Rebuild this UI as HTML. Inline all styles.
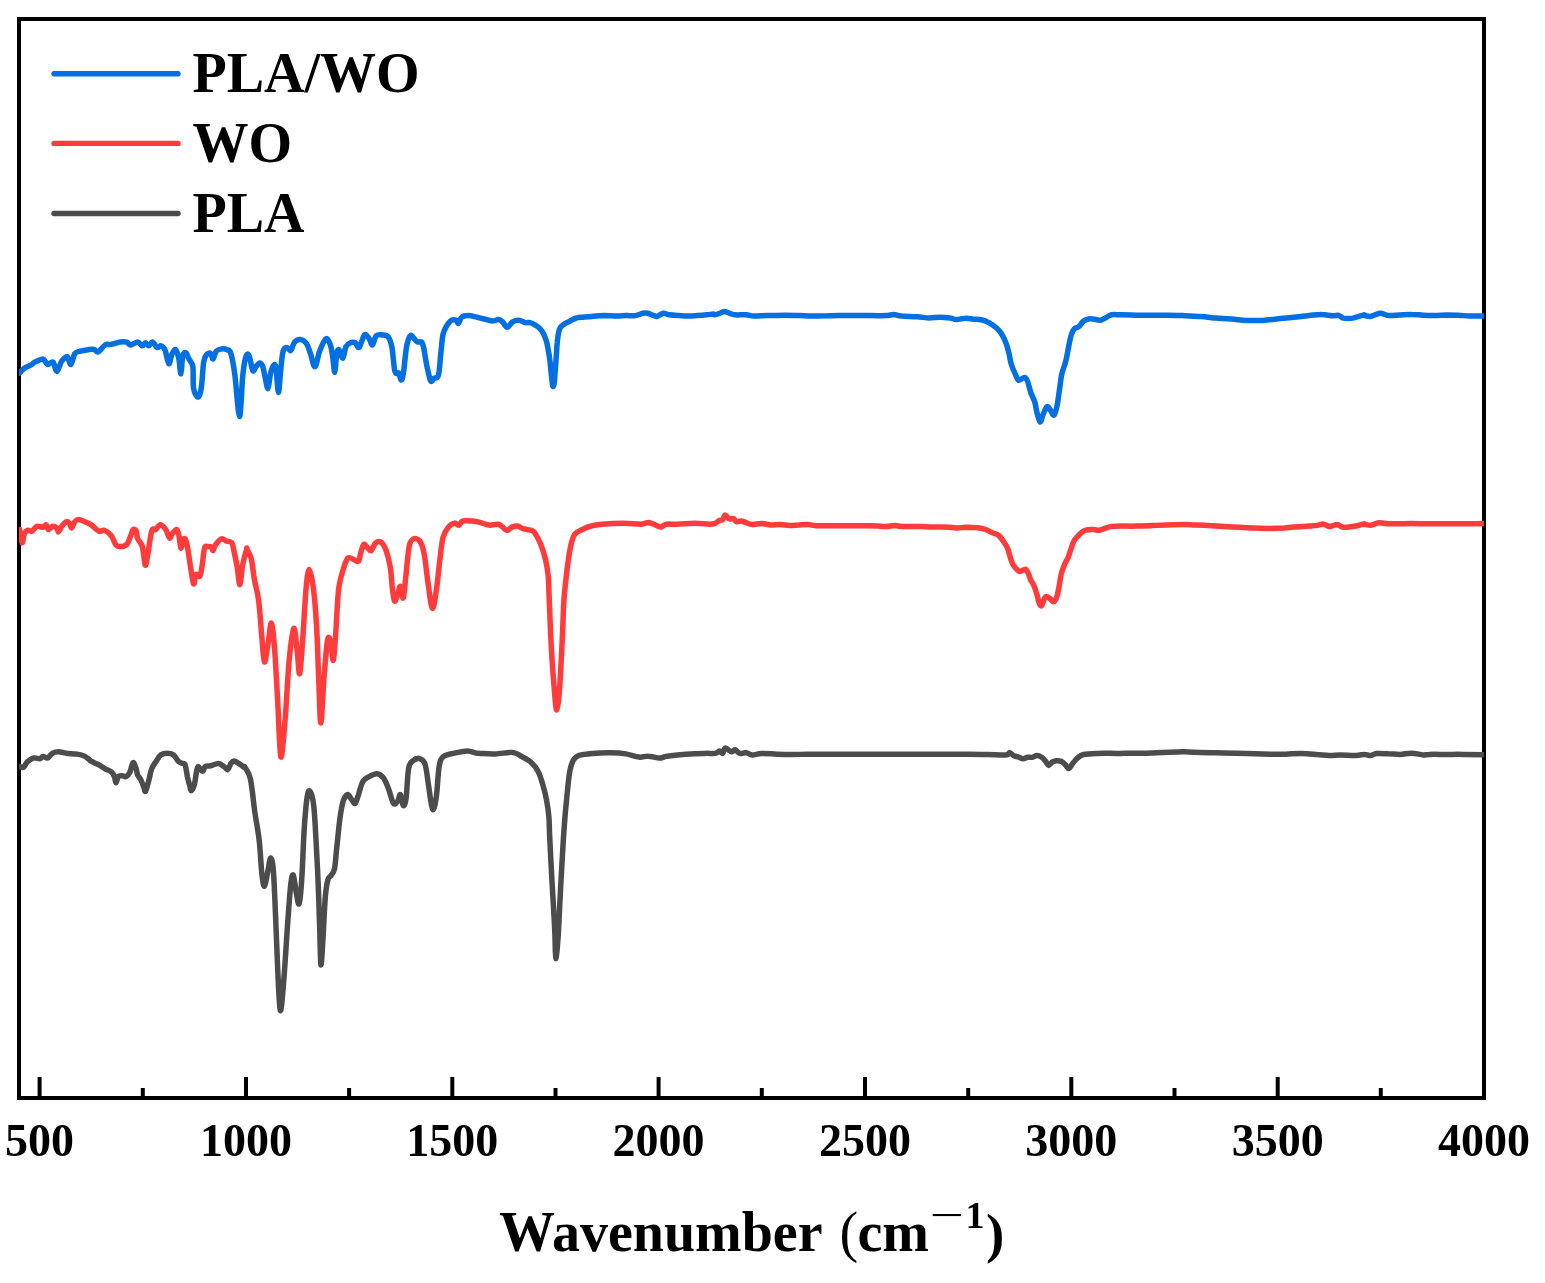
<!DOCTYPE html>
<html><head><meta charset="utf-8"><style>
html,body{margin:0;padding:0;background:#fff;}
svg{display:block;}
text{font-family:"Liberation Serif","Times New Roman",serif;font-weight:bold;fill:#000;}
</style></head><body>
<svg width="1545" height="1283" viewBox="0 0 1545 1283">
<rect x="0" y="0" width="1545" height="1283" fill="#fff"/>
<g stroke="#000" stroke-width="4" fill="none">
<rect x="19" y="19" width="1465" height="1079"/>
<line x1="39.6" y1="1098" x2="39.6" y2="1077"/><line x1="142.8" y1="1098" x2="142.8" y2="1088"/><line x1="246.0" y1="1098" x2="246.0" y2="1077"/><line x1="349.1" y1="1098" x2="349.1" y2="1088"/><line x1="452.3" y1="1098" x2="452.3" y2="1077"/><line x1="555.5" y1="1098" x2="555.5" y2="1088"/><line x1="658.6" y1="1098" x2="658.6" y2="1077"/><line x1="761.8" y1="1098" x2="761.8" y2="1088"/><line x1="865.0" y1="1098" x2="865.0" y2="1077"/><line x1="968.2" y1="1098" x2="968.2" y2="1088"/><line x1="1071.3" y1="1098" x2="1071.3" y2="1077"/><line x1="1174.5" y1="1098" x2="1174.5" y2="1088"/><line x1="1277.7" y1="1098" x2="1277.7" y2="1077"/><line x1="1380.8" y1="1098" x2="1380.8" y2="1088"/><line x1="1484.0" y1="1098" x2="1484.0" y2="1077"/>
</g>
<defs><clipPath id="pc"><rect x="19" y="0" width="1465" height="1283"/></clipPath></defs>
<g fill="none" stroke-linejoin="round" stroke-linecap="round" stroke-width="5.5" clip-path="url(#pc)">
<path stroke="#4c4c4c" d="M19.7,766.5C20.3,766.6 22.2,768.0 23.5,767.3C24.8,766.5 25.7,763.4 27.4,761.8C29.1,760.3 31.6,758.5 33.6,758.0C35.7,757.4 38.3,759.0 39.9,758.7C41.4,758.5 41.7,756.5 43.0,756.4C44.3,756.3 46.1,758.5 47.6,758.0C49.2,757.4 50.5,754.3 52.3,753.3C54.1,752.3 56.2,751.7 58.5,751.7C60.8,751.7 63.2,752.9 66.3,753.3C69.4,753.7 74.0,753.6 77.1,754.1C80.2,754.6 82.6,755.2 84.9,756.4C87.2,757.6 88.8,759.6 91.1,761.1C93.4,762.5 96.6,763.6 98.9,764.9C101.2,766.2 103.0,767.7 105.1,768.8C107.2,770.0 109.8,770.6 111.3,771.9C112.9,773.2 113.6,774.8 114.4,776.6C115.2,778.4 115.3,782.8 116.0,782.8C116.6,782.8 117.3,777.7 118.3,776.6C119.3,775.4 120.9,775.8 122.2,775.8C123.5,775.8 124.8,777.2 126.1,776.6C127.4,775.9 128.8,774.3 130.0,771.9C131.1,769.6 132.0,763.1 133.1,762.6C134.1,762.1 135.4,766.7 136.2,768.8C136.9,770.9 136.9,773.2 137.7,775.0C138.5,776.8 139.8,777.6 140.8,779.7C141.9,781.8 143.2,785.5 143.9,787.5C144.7,789.4 144.7,792.4 145.5,791.3C146.3,790.3 147.6,785.0 148.6,781.2C149.6,777.5 150.4,772.2 151.7,768.8C153.0,765.5 154.8,763.4 156.4,761.1C157.9,758.7 159.2,756.1 161.0,754.8C162.8,753.6 165.2,753.3 167.2,753.3C169.3,753.3 171.6,753.6 173.4,754.8C175.3,756.1 176.7,759.6 178.1,761.1C179.5,762.5 180.8,762.7 182.0,763.4C183.2,764.0 184.2,762.7 185.1,764.9C186.0,767.1 186.7,773.1 187.4,776.6C188.2,780.1 189.1,783.6 189.8,785.9C190.4,788.2 190.5,790.8 191.3,790.6C192.1,790.3 193.5,787.7 194.4,784.3C195.3,781.0 196.1,773.3 196.7,770.4C197.4,767.4 197.7,766.6 198.3,766.5C198.9,766.4 199.9,768.8 200.6,769.6C201.4,770.4 202.2,771.7 203.0,771.1C203.7,770.6 204.0,767.4 205.3,766.5C206.6,765.6 208.5,766.2 210.7,765.7C212.9,765.2 216.3,763.3 218.5,763.4C220.7,763.5 222.4,765.5 223.9,766.5C225.5,767.5 226.7,770.1 227.8,769.6C229.0,769.1 229.9,764.8 230.9,763.4C232.0,762.0 232.7,761.1 234.0,761.1C235.3,761.1 237.0,762.3 238.7,763.4C240.4,764.4 243.1,766.6 244.1,767.3C245.2,767.9 243.9,765.3 245.0,767.3C246.1,769.3 248.8,771.8 250.5,779.3C252.1,786.7 253.4,801.8 254.8,812.0C256.3,822.2 258.0,829.8 259.2,840.4C260.4,850.9 261.1,867.7 262.0,875.3C262.9,883.0 263.7,887.0 264.6,886.2C265.6,885.5 266.9,875.7 267.9,870.9C268.9,866.2 269.8,857.9 270.7,857.9C271.7,857.9 272.6,861.5 273.4,870.9C274.2,880.4 274.8,898.2 275.5,914.6C276.3,931.0 276.9,953.2 277.7,969.2C278.5,985.2 279.3,1008.8 280.3,1010.6C281.4,1012.4 282.6,994.3 283.8,980.1C285.0,965.9 286.4,941.5 287.5,925.5C288.7,909.5 289.8,892.4 290.8,884.0C291.8,875.7 292.5,873.9 293.4,875.3C294.3,876.8 295.3,888.0 296.3,892.8C297.2,897.5 298.2,905.9 299.1,903.7C300.0,901.5 300.9,892.4 301.7,879.7C302.6,866.9 303.4,841.1 304.3,827.3C305.3,813.5 306.2,802.7 307.2,796.7C308.1,790.7 308.9,789.8 310.0,791.3C311.1,792.7 312.8,797.7 313.7,805.5C314.7,813.3 315.2,825.5 315.9,838.2C316.6,850.9 317.5,867.3 318.1,881.9C318.7,896.4 319.2,911.7 319.6,925.5C320.1,939.3 320.4,963.0 320.9,964.8C321.5,966.6 322.4,947.7 323.1,936.4C323.8,925.1 324.5,906.6 325.3,897.1C326.1,887.7 326.9,883.3 327.9,879.7C328.9,876.0 330.1,877.1 331.2,875.3C332.3,873.5 333.6,873.1 334.5,868.8C335.4,864.4 335.7,857.5 336.6,849.1C337.6,840.8 338.8,826.6 339.9,818.6C341.0,810.6 341.9,805.1 343.2,801.1C344.5,797.1 346.1,794.7 347.6,794.6C349.0,794.4 350.6,798.6 351.9,800.0C353.2,801.5 354.1,804.2 355.2,803.3C356.3,802.4 357.2,798.2 358.5,794.6C359.7,790.9 361.2,784.4 362.8,781.5C364.5,778.6 365.9,778.4 368.3,777.1C370.6,775.8 374.5,773.6 377.0,773.8C379.6,774.0 381.6,775.5 383.6,778.2C385.6,780.9 387.4,786.0 389.0,790.2C390.6,794.4 391.9,801.5 393.4,803.3C394.8,805.1 396.6,802.6 397.7,801.1C398.9,799.7 399.4,793.8 400.4,794.6C401.3,795.3 402.2,804.7 403.2,805.5C404.1,806.2 405.1,805.1 406.0,798.9C406.9,792.7 407.5,774.7 408.6,768.4C409.8,762.0 411.2,762.4 413.0,760.7C414.8,759.1 417.6,758.0 419.6,758.6C421.6,759.1 423.6,759.8 425.0,764.0C426.5,768.2 427.2,776.7 428.3,783.6C429.4,790.6 430.6,801.3 431.6,805.5C432.5,809.7 432.9,810.6 433.7,808.7C434.6,806.9 435.7,801.7 436.6,794.6C437.5,787.5 438.0,772.6 439.2,766.2C440.4,759.8 441.0,758.6 443.6,756.4C446.1,754.2 450.5,754.0 454.5,753.1C458.5,752.2 463.9,750.9 467.6,750.9C471.2,750.9 474.2,752.7 476.3,753.1C478.4,753.5 476.9,753.2 480.0,753.4C483.1,753.5 489.5,754.1 495.0,753.9C500.4,753.8 508.4,752.1 512.7,752.4C517.1,752.8 518.2,754.6 521.2,756.2C524.1,757.7 527.7,759.3 530.5,761.8C533.3,764.3 536.0,767.4 538.0,771.2C540.0,774.9 541.3,779.6 542.7,784.2C544.1,788.9 545.4,793.9 546.4,799.2C547.4,804.5 548.3,810.1 548.8,816.0C549.4,822.0 549.2,826.6 549.6,834.8C550.0,842.9 550.5,854.1 551.1,864.7C551.6,875.3 552.3,887.1 553.0,898.4C553.6,909.6 554.4,922.0 554.8,932.0C555.3,942.1 555.2,958.0 555.8,958.6C556.3,959.2 557.5,945.8 558.2,935.8C558.9,925.7 559.4,910.2 560.1,898.4C560.7,886.5 561.2,876.5 561.9,864.7C562.6,852.8 563.3,838.8 564.2,827.3C565.0,815.7 566.0,804.8 567.0,795.5C567.9,786.1 568.7,777.1 569.8,771.2C570.9,765.2 572.0,762.6 573.5,759.9C575.1,757.3 576.0,756.3 579.1,755.3C582.3,754.2 586.9,753.8 592.2,753.4C597.5,753.0 605.3,752.7 610.9,752.8C616.6,752.9 621.2,753.2 625.9,753.9C630.6,754.7 635.3,756.7 639.0,757.1C642.7,757.5 644.9,756.0 648.4,756.2C651.8,756.3 656.5,758.1 659.6,758.1C662.7,758.1 662.7,756.8 667.1,756.2C671.4,755.6 679.5,754.8 685.8,754.3C692.0,753.8 699.6,753.5 704.5,753.4C709.3,753.2 712.5,753.8 715.0,753.4C717.5,753.0 718.4,751.1 719.7,751.1C721.0,751.1 721.9,753.9 722.8,753.4C723.7,752.9 724.1,748.5 725.1,748.0C726.1,747.4 727.8,749.6 729.0,750.3C730.1,750.9 731.1,751.9 732.1,751.8C733.1,751.8 733.9,749.6 735.2,749.8C736.5,750.1 738.0,752.9 739.9,753.4C741.7,753.9 744.0,752.4 746.1,752.6C748.1,752.9 749.7,754.8 752.3,755.0C754.9,755.1 757.5,753.5 761.6,753.4C765.7,753.3 772.0,754.0 777.1,754.2C782.3,754.4 787.5,754.5 792.7,754.5C797.8,754.5 800.4,754.2 808.2,754.2C816.0,754.1 828.9,754.2 839.3,754.2C849.6,754.2 860.0,754.2 870.3,754.2C880.7,754.2 888.1,754.2 901.4,754.2C914.7,754.2 938.8,754.2 950.0,754.2C961.2,754.2 962.4,754.1 968.6,754.2C974.9,754.2 981.1,754.4 987.3,754.5C993.5,754.6 1002.2,755.3 1005.9,755.0C1009.7,754.6 1008.5,752.5 1009.8,752.6C1011.1,752.8 1012.3,755.0 1013.7,755.7C1015.1,756.5 1016.8,756.5 1018.3,757.0C1019.9,757.5 1021.5,758.8 1023.0,758.8C1024.6,758.9 1026.1,757.5 1027.7,757.3C1029.2,757.0 1030.8,757.6 1032.3,757.3C1033.9,757.0 1035.4,755.4 1037.0,755.4C1038.5,755.4 1040.2,756.3 1041.7,757.3C1043.1,758.2 1044.4,759.8 1045.5,761.2C1046.7,762.5 1047.5,765.2 1048.6,765.4C1049.8,765.5 1051.2,762.7 1052.5,761.9C1053.8,761.2 1054.9,760.8 1056.4,760.7C1058.0,760.6 1060.3,760.9 1061.8,761.6C1063.4,762.4 1064.6,763.9 1065.7,765.0C1066.9,766.2 1067.7,768.7 1068.8,768.5C1070.0,768.2 1071.3,765.2 1072.7,763.5C1074.1,761.8 1075.6,759.6 1077.4,758.1C1079.2,756.6 1080.2,755.3 1083.6,754.5C1087.0,753.7 1091.4,753.6 1097.6,753.4C1103.8,753.2 1111.8,753.5 1120.9,753.4C1129.9,753.3 1141.6,753.2 1151.9,752.9C1162.3,752.7 1177.5,752.0 1183.0,751.8C1188.5,751.7 1182.1,751.7 1185.0,751.8C1187.9,752.0 1194.1,752.4 1200.5,752.6C1207.0,752.8 1216.1,752.8 1223.8,752.9C1231.6,753.1 1239.4,753.2 1247.1,753.4C1254.9,753.6 1264.0,754.0 1270.4,754.2C1276.9,754.3 1280.8,754.3 1286.0,754.2C1291.1,754.0 1296.3,753.3 1301.5,753.4C1306.7,753.4 1312.4,754.1 1317.0,754.5C1321.7,754.8 1325.6,755.3 1329.5,755.4C1333.3,755.5 1335.9,755.0 1340.3,755.0C1344.7,755.0 1351.8,755.5 1355.9,755.4C1360.0,755.3 1362.5,754.3 1365.0,754.4C1367.5,754.4 1368.9,755.7 1370.8,755.5C1372.8,755.4 1373.7,753.8 1376.7,753.5C1379.6,753.2 1384.4,753.6 1388.3,753.8C1392.2,753.9 1396.1,754.4 1400.0,754.4C1403.8,754.3 1407.7,753.1 1411.6,753.2C1415.5,753.3 1420.3,754.7 1423.3,754.9C1426.2,755.1 1425.2,754.4 1429.1,754.4C1433.0,754.3 1440.7,754.4 1446.6,754.4C1452.4,754.4 1457.8,754.3 1464.0,754.4C1470.2,754.4 1480.5,754.6 1483.8,754.7"/>
<path stroke="#ff3b3b" d="M19.7,529.5C20.0,531.7 21.2,541.9 22.0,542.7C22.8,543.5 23.4,536.2 24.3,534.2C25.2,532.1 26.1,530.8 27.4,530.3C28.7,529.8 30.5,531.7 32.1,531.1C33.6,530.4 34.9,527.0 36.7,526.4C38.6,525.8 41.4,527.4 43.0,527.2C44.5,526.9 45.2,524.5 46.1,524.8C47.0,525.2 47.4,529.2 48.4,529.5C49.4,529.8 50.9,526.7 52.3,526.4C53.7,526.1 55.9,527.0 56.9,528.0C58.0,528.9 57.7,532.1 58.5,531.8C59.3,531.6 60.3,528.1 61.6,526.4C62.9,524.7 65.0,522.3 66.3,521.7C67.6,521.2 68.5,522.3 69.4,523.3C70.3,524.3 70.8,528.2 71.7,528.0C72.6,527.7 73.6,523.2 74.8,521.7C76.0,520.3 77.0,519.4 78.7,519.4C80.4,519.4 82.8,520.8 84.9,521.7C87.0,522.6 88.8,523.3 91.1,524.8C93.4,526.4 96.7,530.2 98.9,531.1C101.1,532.0 102.2,529.5 104.3,530.3C106.4,531.1 109.4,533.3 111.3,535.7C113.3,538.2 114.4,543.2 116.0,545.0C117.5,546.8 118.8,546.7 120.6,546.6C122.4,546.5 125.2,546.1 126.8,544.3C128.5,542.4 129.7,538.2 130.7,535.7C131.8,533.3 132.2,530.3 133.1,529.5C134.0,528.7 135.4,529.5 136.2,531.1C136.9,532.6 136.7,536.2 137.7,538.8C138.8,541.4 141.1,542.2 142.4,546.6C143.6,551.0 144.3,563.9 145.2,565.2C146.1,566.5 146.7,560.0 147.8,554.3C148.9,548.7 150.4,535.2 151.7,531.1C153.0,526.9 154.2,530.5 155.6,529.5C157.0,528.5 158.6,524.8 160.2,524.8C161.9,524.8 164.1,527.3 165.7,529.5C167.2,531.7 168.5,537.3 169.6,538.0C170.6,538.8 170.7,535.6 171.9,534.2C173.1,532.7 175.4,529.2 176.6,529.5C177.7,529.8 178.2,532.6 178.9,535.7C179.6,538.8 180.3,547.4 180.9,548.1C181.6,548.9 182.1,541.9 182.8,540.4C183.5,538.8 184.3,537.8 185.1,538.8C185.9,539.9 186.5,541.9 187.4,546.6C188.3,551.2 189.5,560.6 190.5,566.8C191.6,573.0 192.7,582.6 193.6,583.9C194.5,585.1 194.9,575.8 196.0,574.5C197.0,573.2 198.8,577.6 199.9,576.1C200.9,574.5 201.4,569.9 202.2,565.2C203.0,560.6 203.6,551.2 204.5,548.1C205.4,545.0 206.5,546.7 207.6,546.6C208.8,546.5 210.6,546.7 211.5,547.4C212.4,548.0 212.4,550.9 213.1,550.5C213.7,550.1 214.0,547.0 215.4,545.0C216.8,543.1 219.8,539.5 221.6,538.8C223.4,538.2 224.6,540.5 226.3,541.1C227.9,541.8 230.4,541.0 231.7,542.7C233.0,544.4 233.1,547.2 234.0,551.2C234.9,555.3 236.2,561.2 237.1,566.8C238.1,572.3 239.0,584.9 239.9,584.6C240.8,584.4 241.5,571.0 242.6,565.2C243.7,559.4 245.7,552.3 246.5,549.7C247.2,547.1 246.3,547.9 247.1,549.5C247.9,551.0 250.1,553.8 251.3,558.9C252.5,564.0 253.2,573.0 254.5,580.0C255.7,587.0 257.5,591.5 258.7,601.0C259.9,610.5 260.9,626.6 261.8,636.8C262.8,647.0 263.3,661.0 264.4,662.0C265.4,663.1 267.0,649.6 268.2,643.1C269.3,636.6 270.3,622.4 271.3,623.1C272.4,623.8 273.4,634.5 274.5,647.3C275.5,660.1 276.6,681.7 277.6,699.9C278.7,718.2 279.6,753.2 280.8,756.7C282.0,760.2 283.6,737.1 285.0,721.0C286.4,704.8 287.7,675.4 289.2,659.9C290.7,644.5 292.5,629.8 293.8,628.4C295.2,627.0 296.2,644.0 297.2,651.5C298.2,659.1 298.8,676.1 299.7,673.6C300.7,671.2 301.8,651.0 302.9,636.8C303.9,622.6 305.0,599.6 306.1,588.4C307.1,577.2 308.0,569.4 309.2,569.4C310.4,569.4 312.2,578.9 313.4,588.4C314.6,597.9 315.7,611.2 316.6,626.3C317.5,641.3 318.0,662.7 318.7,678.9C319.4,695.0 319.9,723.1 320.8,723.1C321.7,723.1 322.9,692.2 323.9,678.9C325.0,665.5 326.2,649.9 327.1,643.1C328.0,636.3 328.5,637.1 329.2,637.8C329.9,638.5 330.6,643.6 331.3,647.3C332.0,651.0 332.6,662.7 333.4,659.9C334.2,657.1 335.1,642.4 335.9,630.5C336.8,618.5 337.4,598.9 338.7,588.4C340.0,577.9 342.4,572.4 343.9,567.3C345.5,562.3 346.4,559.1 348.2,557.9C349.9,556.6 352.7,559.4 354.5,560.0C356.2,560.5 357.6,562.3 358.7,561.0C359.7,559.8 359.9,555.4 360.8,552.6C361.7,549.8 362.7,544.9 363.9,544.2C365.2,543.5 366.9,547.3 368.2,548.4C369.4,549.5 370.1,551.4 371.3,550.5C372.5,549.6 373.9,544.5 375.5,543.1C377.1,541.7 379.0,540.9 380.8,542.1C382.5,543.3 384.5,546.3 386.1,550.5C387.6,554.7 389.2,561.0 390.3,567.3C391.3,573.7 391.7,582.8 392.4,588.4C393.1,594.0 393.6,600.0 394.5,601.0C395.4,602.1 396.6,597.2 397.6,594.7C398.6,592.2 399.4,585.8 400.4,586.3C401.3,586.8 402.4,600.0 403.3,597.9C404.3,595.7 405.1,582.2 406.1,573.7C407.0,565.1 408.0,552.1 409.2,546.3C410.4,540.5 411.7,539.8 413.4,538.9C415.2,538.1 418.0,538.8 419.7,541.0C421.5,543.3 422.5,545.4 423.9,552.6C425.4,559.8 426.8,574.9 428.2,584.2C429.6,593.5 431.0,607.7 432.4,608.4C433.8,609.1 435.4,596.3 436.6,588.4C437.8,580.5 438.7,569.4 439.7,561.0C440.8,552.6 441.5,543.5 442.9,537.9C444.3,532.3 446.2,529.8 448.2,527.4C450.1,524.9 452.7,523.5 454.5,523.1C456.2,522.8 457.3,525.6 458.7,525.3C460.1,524.9 460.6,521.7 462.9,521.0C465.2,520.3 469.5,520.8 472.4,521.0C475.2,521.3 477.2,521.7 480.0,522.4C482.8,523.1 486.0,524.8 489.0,525.1C491.9,525.4 495.7,523.9 497.9,524.2C500.2,524.5 500.9,525.8 502.4,526.9C503.9,527.9 505.2,530.5 506.9,530.5C508.5,530.5 510.5,527.6 512.3,526.9C514.1,526.1 515.8,525.7 517.6,526.0C519.4,526.3 520.6,527.9 523.0,528.7C525.4,529.4 529.9,529.6 532.0,530.5C534.1,531.4 534.1,531.7 535.6,534.1C537.1,536.5 539.3,540.6 540.9,544.8C542.6,549.0 544.2,554.1 545.4,559.2C546.6,564.2 547.5,569.6 548.1,575.3C548.7,581.0 548.7,584.9 549.0,593.2C549.4,601.6 549.8,615.3 550.3,625.5C550.7,635.7 551.2,645.2 551.7,654.2C552.2,663.1 552.9,671.5 553.5,679.3C554.1,687.0 554.7,695.7 555.3,700.8C555.8,705.9 556.1,710.4 556.7,709.8C557.3,709.2 558.2,703.8 558.9,697.2C559.5,690.6 560.1,680.8 560.7,670.3C561.3,659.9 561.9,646.1 562.5,634.5C563.0,622.8 563.3,609.7 563.9,600.4C564.5,591.1 565.2,586.1 566.0,578.9C566.8,571.7 567.8,563.3 568.7,557.4C569.6,551.4 570.4,546.9 571.4,543.0C572.5,539.1 573.2,536.3 575.0,534.1C576.8,531.8 579.5,530.9 582.2,529.6C584.9,528.2 587.8,526.9 591.1,526.0C594.4,525.1 596.5,524.7 601.9,524.2C607.3,523.8 616.8,523.3 623.4,523.3C630.0,523.3 637.1,524.4 641.3,524.2C645.5,524.1 646.1,522.3 648.5,522.4C650.9,522.6 653.6,524.4 655.7,525.1C657.7,525.8 659.2,527.0 661.0,526.9C662.8,526.7 663.7,524.7 666.4,524.2C669.1,523.8 672.4,524.4 677.2,524.2C681.9,524.1 689.7,523.3 695.1,523.3C700.5,523.3 706.1,524.2 709.4,524.2C712.7,524.2 713.3,524.0 715.0,523.4C716.7,522.7 718.4,520.9 719.7,520.3C721.0,519.6 721.9,520.4 722.8,519.5C723.7,518.6 724.1,515.0 725.1,514.9C726.1,514.7 727.6,518.1 729.0,518.7C730.4,519.4 732.3,518.2 733.6,518.7C734.9,519.3 735.5,521.5 736.7,521.8C738.0,522.2 739.9,520.9 741.4,521.1C743.0,521.2 744.3,522.1 746.1,522.6C747.9,523.2 749.7,524.4 752.3,524.5C754.9,524.6 758.5,523.3 761.6,523.4C764.7,523.5 767.8,524.8 770.9,525.0C774.0,525.1 777.1,524.4 780.2,524.5C783.3,524.6 786.5,525.3 789.6,525.4C792.7,525.5 795.8,525.1 798.9,525.0C802.0,524.8 805.4,524.4 808.2,524.5C811.1,524.6 810.8,525.5 816.0,525.7C821.1,525.9 830.2,525.7 839.3,525.7C848.3,525.7 863.9,525.7 870.3,525.7C876.8,525.8 875.5,525.9 878.1,526.0C880.7,526.2 883.0,526.6 885.9,526.5C888.7,526.4 892.6,525.4 895.2,525.4C897.8,525.4 897.3,526.3 901.4,526.5C905.6,526.7 914.9,526.4 920.0,526.5C925.2,526.6 927.5,526.9 932.5,527.0C937.5,527.1 945.8,527.0 950.0,527.2C954.2,527.4 955.2,528.0 957.8,528.0C960.4,528.0 962.2,527.3 965.5,527.2C968.9,527.2 974.6,527.3 978.0,527.7C981.3,528.1 983.4,528.7 985.7,529.5C988.1,530.4 989.9,531.7 991.9,532.6C994.0,533.6 996.3,533.7 998.2,535.0C1000.0,536.3 1001.3,538.2 1002.8,540.4C1004.4,542.6 1006.2,545.2 1007.5,548.2C1008.8,551.2 1009.7,555.6 1010.6,558.3C1011.5,561.0 1012.0,562.8 1012.9,564.5C1013.8,566.2 1014.9,567.2 1016.0,568.4C1017.2,569.6 1018.3,571.4 1019.9,571.5C1021.5,571.6 1023.9,568.8 1025.3,569.2C1026.8,569.6 1027.5,572.0 1028.4,573.8C1029.4,575.7 1029.9,578.1 1030.8,580.1C1031.7,582.0 1032.8,583.0 1033.9,585.5C1034.9,588.0 1036.1,591.8 1037.0,594.8C1037.9,597.8 1038.5,601.6 1039.3,603.4C1040.1,605.2 1040.9,606.4 1041.7,605.7C1042.4,605.1 1043.2,601.0 1044.0,599.5C1044.8,597.9 1045.3,596.5 1046.3,596.4C1047.3,596.2 1049.0,597.8 1050.2,598.7C1051.4,599.6 1052.3,601.9 1053.3,601.8C1054.3,601.7 1055.5,600.1 1056.4,597.9C1057.3,595.7 1058.0,592.5 1058.7,588.6C1059.5,584.7 1060.2,578.5 1061.1,574.6C1062.0,570.7 1063.0,568.1 1064.2,565.3C1065.3,562.4 1066.9,560.4 1068.1,557.5C1069.2,554.7 1070.1,551.0 1071.2,548.2C1072.2,545.3 1073.0,542.6 1074.3,540.4C1075.6,538.2 1077.1,536.7 1078.9,535.0C1080.7,533.3 1082.8,531.2 1085.1,530.3C1087.5,529.4 1090.6,529.5 1092.9,529.5C1095.2,529.5 1097.3,530.4 1099.1,530.3C1100.9,530.2 1101.7,529.4 1103.8,528.8C1105.9,528.1 1108.7,526.9 1111.6,526.4C1114.4,526.0 1116.7,526.2 1120.9,526.1C1125.0,526.1 1131.2,526.2 1136.4,526.1C1141.6,526.0 1146.8,525.9 1151.9,525.6C1157.1,525.4 1162.0,525.1 1167.5,524.9C1173.0,524.7 1180.5,524.5 1185.0,524.5C1189.5,524.5 1190.4,524.8 1194.3,525.0C1198.2,525.1 1203.4,525.2 1208.3,525.4C1213.2,525.7 1218.7,526.2 1223.8,526.5C1229.0,526.8 1234.2,527.0 1239.4,527.3C1244.5,527.5 1249.7,527.9 1254.9,528.1C1260.1,528.3 1265.5,528.5 1270.4,528.5C1275.4,528.5 1280.5,528.3 1284.4,528.1C1288.3,527.8 1289.6,527.3 1293.7,527.0C1297.9,526.6 1305.4,526.3 1309.3,526.0C1313.2,525.8 1314.7,525.8 1317.0,525.4C1319.4,525.1 1321.2,523.7 1323.3,523.9C1325.3,524.0 1327.1,526.4 1329.5,526.5C1331.8,526.6 1334.9,524.4 1337.2,524.5C1339.6,524.6 1340.3,527.0 1343.4,527.3C1346.6,527.5 1352.5,526.6 1355.9,526.0C1359.2,525.5 1362.1,524.1 1363.6,523.9C1365.2,523.6 1363.8,524.1 1365.0,524.4C1366.2,524.6 1368.5,525.4 1370.8,525.2C1373.2,524.9 1376.1,523.1 1379.0,522.8C1381.9,522.6 1384.8,523.6 1388.3,523.8C1391.8,523.9 1396.1,523.8 1400.0,523.8C1403.8,523.7 1407.7,523.5 1411.6,523.5C1415.5,523.5 1419.4,523.7 1423.3,523.8C1427.1,523.8 1431.0,523.8 1434.9,523.8C1438.8,523.8 1442.7,523.8 1446.6,523.8C1450.4,523.8 1454.3,523.8 1458.2,523.8C1462.1,523.8 1465.5,523.8 1469.9,523.8C1474.2,523.7 1482.0,523.6 1484.4,523.5"/>
<path stroke="#036fe0" d="M19.7,373.0C20.4,372.2 22.5,369.6 24.3,368.3C26.1,367.0 28.7,366.3 30.5,365.2C32.3,364.2 33.1,363.1 35.2,362.1C37.3,361.1 40.9,358.6 43.0,359.0C45.0,359.4 45.9,363.9 47.6,364.4C49.3,365.0 51.5,360.9 53.1,362.1C54.6,363.3 55.5,371.6 56.9,371.4C58.4,371.3 59.9,363.8 61.6,361.3C63.3,358.9 65.5,356.2 67.0,356.7C68.6,357.2 69.6,365.0 70.9,364.4C72.2,363.9 73.3,355.8 74.8,353.6C76.4,351.4 78.0,351.9 80.2,351.2C82.4,350.6 85.7,350.0 88.0,349.7C90.3,349.4 92.5,349.0 94.2,349.4C95.9,349.8 96.3,352.7 98.1,352.0C99.9,351.3 102.9,346.3 105.1,345.0C107.3,343.7 108.7,344.8 111.3,344.3C113.9,343.7 118.0,342.3 120.6,341.9C123.2,341.6 125.2,341.7 126.8,342.2C128.5,342.8 128.9,345.1 130.7,345.0C132.5,345.0 135.8,341.8 137.7,341.9C139.7,342.1 141.1,345.7 142.4,345.8C143.7,345.9 144.4,342.7 145.5,342.7C146.5,342.7 147.4,345.9 148.6,345.8C149.8,345.7 151.1,341.7 152.5,341.9C153.9,342.2 155.7,346.7 157.1,347.4C158.6,348.0 159.7,345.4 161.0,345.8C162.3,346.2 163.6,346.7 164.9,349.7C166.2,352.7 167.6,362.9 168.8,363.7C170.0,364.4 170.7,356.7 171.9,354.3C173.1,352.0 174.6,348.9 175.8,349.7C176.9,350.5 178.0,355.0 178.9,359.0C179.7,363.0 180.3,374.3 180.9,373.8C181.6,373.2 181.9,359.4 182.8,355.9C183.6,352.4 184.8,352.3 185.9,352.8C186.9,353.3 187.8,356.7 189.0,359.0C190.1,361.3 192.1,361.9 192.9,366.8C193.6,371.7 192.7,383.5 193.6,388.5C194.5,393.6 197.0,397.3 198.3,397.0C199.6,396.8 200.5,392.8 201.4,387.0C202.3,381.1 202.8,367.5 203.7,362.1C204.6,356.7 205.7,355.8 206.8,354.3C208.0,352.9 209.7,352.8 210.7,353.6C211.8,354.3 212.2,359.4 213.1,359.0C214.0,358.6 214.7,352.9 216.2,351.2C217.6,349.6 219.8,349.2 221.6,348.9C223.4,348.7 225.5,348.9 227.0,349.7C228.6,350.5 229.6,349.4 230.9,353.6C232.2,357.7 233.4,364.1 234.8,374.5C236.2,385.0 238.2,415.9 239.5,416.5C240.8,417.0 241.7,387.0 242.6,377.6C243.5,368.3 244.1,364.4 244.9,360.6C245.7,356.7 246.5,354.9 247.3,354.3C248.1,353.8 248.8,354.7 249.7,357.5C250.6,360.2 251.7,369.1 252.8,370.7C253.8,372.2 254.7,368.1 255.9,366.8C257.0,365.5 258.6,362.9 259.8,362.9C260.9,362.9 262.0,364.3 262.9,366.8C263.8,369.2 264.3,374.0 265.2,377.6C266.0,381.3 267.1,389.3 268.0,388.5C268.9,387.7 269.7,376.9 270.6,373.0C271.6,369.1 272.8,366.0 273.7,365.2C274.6,364.4 275.3,363.8 276.1,368.3C276.8,372.9 277.6,392.1 278.4,392.4C279.2,392.7 280.0,376.7 280.7,369.9C281.5,363.0 282.0,355.0 283.1,351.2C284.1,347.5 285.6,347.5 286.9,347.4C288.2,347.2 289.5,351.4 290.8,350.5C292.1,349.6 293.0,343.7 294.7,341.9C296.4,340.1 299.0,339.3 300.9,339.6C302.9,339.9 304.8,341.3 306.4,343.5C307.9,345.7 308.8,348.9 310.2,352.8C311.7,356.7 313.3,367.0 314.9,366.8C316.5,366.5 317.8,355.9 319.6,351.2C321.4,346.6 324.0,339.9 325.8,338.8C327.6,337.8 329.3,341.9 330.4,345.0C331.6,348.1 332.0,352.9 332.8,357.5C333.5,362.0 334.1,372.7 334.8,372.2C335.4,371.7 336.0,358.1 336.7,354.3C337.3,350.6 337.9,349.0 339.0,349.7C340.0,350.3 341.7,358.7 342.9,358.2C344.0,357.7 344.7,349.2 346.0,346.6C347.3,344.0 349.1,343.3 350.6,342.7C352.2,342.1 353.9,341.9 355.3,342.7C356.7,343.5 357.6,348.7 359.2,347.4C360.7,346.1 362.9,336.4 364.6,334.9C366.3,333.5 368.0,337.1 369.3,338.8C370.6,340.5 371.2,345.5 372.4,345.0C373.5,344.5 374.6,337.4 376.3,335.7C377.9,334.0 380.5,334.8 382.5,334.9C384.4,335.1 386.4,334.5 387.9,336.5C389.5,338.4 390.6,340.8 391.8,346.6C393.0,352.4 393.7,367.0 394.9,371.4C396.1,375.8 397.8,371.6 398.8,373.0C399.8,374.4 400.3,380.0 401.1,380.0C401.9,380.0 402.5,378.5 403.4,373.0C404.4,367.4 405.4,352.8 406.6,346.6C407.7,340.4 409.1,337.0 410.4,335.7C411.7,334.4 413.2,337.8 414.3,338.8C415.5,339.9 416.3,341.4 417.4,341.9C418.6,342.4 420.3,341.0 421.3,341.9C422.3,342.8 422.7,343.5 423.6,347.4C424.5,351.2 425.6,359.7 426.7,365.2C427.9,370.8 429.5,378.5 430.6,380.7C431.8,382.9 432.4,379.3 433.7,378.4C435.0,377.5 437.2,379.3 438.4,375.3C439.6,371.3 440.0,361.2 440.7,354.3C441.5,347.5 442.0,338.9 443.1,334.2C444.1,329.4 445.5,328.0 446.9,325.6C448.4,323.3 450.0,321.1 451.6,320.2C453.2,319.3 455.1,319.7 456.3,320.2C457.4,320.7 457.7,323.8 458.6,323.3C459.5,322.8 460.0,318.4 461.7,317.1C463.4,315.8 466.2,315.5 468.7,315.5C471.1,315.5 474.6,316.7 476.5,317.1C478.3,317.5 478.4,317.5 480.0,318.0C481.6,318.4 484.1,319.0 486.2,319.5C488.3,320.0 490.4,321.1 492.4,321.1C494.5,321.1 497.0,319.4 498.6,319.5C500.3,319.6 501.1,320.5 502.5,321.8C503.9,323.1 505.5,327.3 507.2,327.3C508.9,327.3 510.7,323.0 512.6,321.8C514.6,320.7 516.8,320.2 518.8,320.3C520.9,320.4 523.2,322.2 525.0,322.6C526.9,323.0 528.3,322.2 530.0,322.6C531.7,323.0 533.6,324.2 535.3,325.2C537.0,326.2 538.5,327.0 539.9,328.6C541.4,330.1 542.8,332.3 543.9,334.5C545.0,336.7 545.8,339.3 546.6,341.8C547.3,344.3 547.7,347.1 548.2,349.8C548.7,352.4 549.2,355.0 549.5,357.7C549.9,360.5 550.2,363.2 550.5,366.3C550.9,369.4 551.1,373.0 551.5,376.3C551.9,379.6 552.4,385.1 552.8,386.2C553.3,387.3 553.8,385.1 554.2,382.9C554.5,380.7 554.8,376.3 555.0,373.0C555.3,369.6 555.6,366.3 555.8,363.0C556.1,359.7 556.3,356.4 556.5,353.1C556.7,349.8 556.8,346.4 557.2,343.1C557.5,339.8 557.9,335.8 558.5,333.2C559.0,330.5 559.5,328.8 560.5,327.2C561.5,325.7 562.9,324.9 564.4,323.9C566.0,322.9 567.7,322.3 569.7,321.3C571.7,320.3 574.2,318.6 576.4,318.0C578.5,317.3 579.9,317.4 582.5,317.2C585.1,316.9 588.2,316.7 591.8,316.4C595.5,316.1 600.1,315.7 604.3,315.6C608.4,315.6 613.1,316.1 616.7,316.1C620.3,316.1 622.9,315.7 626.0,315.6C629.1,315.5 632.5,316.0 635.3,315.6C638.2,315.2 641.0,313.7 643.1,313.3C645.2,312.9 646.0,312.9 647.8,313.3C649.6,313.7 652.4,315.1 654.0,315.6C655.5,316.1 655.5,316.8 657.1,316.4C658.6,316.0 661.2,313.6 663.3,313.3C665.4,313.0 666.9,314.5 669.5,314.8C672.1,315.2 675.7,315.4 678.8,315.6C681.9,315.8 685.0,316.1 688.2,316.1C691.3,316.1 694.4,315.8 697.5,315.6C700.6,315.4 704.2,315.1 706.8,314.8C709.4,314.6 711.6,314.1 713.0,314.1C714.4,314.1 713.9,315.0 715.0,314.8C716.1,314.7 718.1,313.9 719.7,313.3C721.2,312.7 722.5,311.4 724.3,311.4C726.1,311.5 728.7,313.0 730.5,313.6C732.3,314.2 732.6,314.6 735.2,314.8C737.8,315.1 743.0,314.6 746.1,314.8C749.2,315.1 750.5,316.0 753.8,316.1C757.2,316.2 761.1,315.8 766.3,315.6C771.4,315.5 779.2,315.2 784.9,315.2C790.6,315.2 795.8,315.5 800.4,315.6C805.1,315.8 806.4,316.1 812.9,316.1C819.3,316.1 829.7,315.7 839.3,315.6C848.9,315.5 862.6,315.6 870.3,315.6C878.1,315.6 882.0,315.8 885.9,315.6C889.8,315.4 891.1,314.5 893.6,314.5C896.2,314.6 897.5,315.7 901.4,316.1C905.3,316.4 912.3,316.4 916.9,316.7C921.6,317.0 925.5,317.9 929.4,318.0C933.3,318.0 936.8,317.2 940.2,317.2C943.7,317.2 947.3,317.6 950.0,318.0C952.7,318.3 953.6,319.5 956.2,319.5C958.8,319.6 962.7,318.3 965.5,318.3C968.4,318.2 970.7,318.9 973.3,319.2C975.9,319.5 978.5,319.2 981.1,319.8C983.7,320.4 986.2,321.2 988.8,322.6C991.4,324.0 994.5,326.2 996.6,328.0C998.7,329.9 999.7,331.0 1001.3,333.5C1002.8,335.9 1004.6,339.4 1005.9,342.8C1007.2,346.2 1008.1,350.0 1009.0,353.7C1009.9,357.3 1010.3,361.2 1011.4,364.5C1012.4,367.9 1014.1,371.3 1015.2,373.9C1016.4,376.4 1017.2,379.3 1018.3,380.1C1019.5,380.8 1021.1,378.9 1022.2,378.5C1023.4,378.1 1024.4,377.2 1025.3,377.7C1026.2,378.3 1026.8,379.2 1027.7,381.6C1028.6,384.1 1029.6,389.1 1030.8,392.5C1031.9,395.8 1033.6,398.4 1034.7,401.8C1035.7,405.2 1036.1,409.3 1037.0,412.7C1037.9,416.0 1039.1,421.7 1040.1,422.0C1041.1,422.2 1042.0,416.8 1043.2,414.2C1044.4,411.6 1045.8,407.0 1047.1,406.5C1048.4,405.9 1049.8,409.7 1051.0,411.1C1052.1,412.5 1053.0,416.0 1054.1,415.0C1055.1,414.0 1056.3,409.2 1057.2,404.9C1058.1,400.6 1058.7,394.6 1059.5,389.4C1060.3,384.2 1060.8,378.5 1061.8,373.9C1062.9,369.2 1064.6,366.1 1065.7,361.4C1066.9,356.8 1067.9,350.3 1068.8,345.9C1069.7,341.5 1070.3,337.9 1071.2,335.0C1072.1,332.2 1073.0,330.2 1074.3,328.8C1075.6,327.4 1077.4,327.8 1078.9,326.5C1080.5,325.2 1081.8,322.3 1083.6,321.1C1085.4,319.8 1087.7,319.0 1089.8,318.7C1091.9,318.5 1094.2,319.2 1096.0,319.5C1097.8,319.8 1099.1,320.5 1100.7,320.3C1102.2,320.0 1103.5,318.9 1105.3,318.0C1107.2,317.0 1109.0,315.4 1111.6,314.8C1114.1,314.3 1116.7,314.8 1120.9,314.8C1125.0,314.9 1131.2,315.1 1136.4,315.2C1141.6,315.2 1146.8,315.2 1151.9,315.2C1157.1,315.2 1162.3,315.1 1167.5,315.2C1172.7,315.2 1180.1,315.5 1183.0,315.6C1185.9,315.7 1182.1,315.6 1185.0,315.7C1187.9,315.9 1195.4,316.1 1200.5,316.5C1205.7,316.9 1210.9,317.6 1216.1,318.1C1221.2,318.5 1226.4,318.8 1231.6,319.1C1236.8,319.5 1242.0,320.2 1247.1,320.4C1252.3,320.6 1257.5,320.6 1262.7,320.4C1267.8,320.1 1273.0,319.4 1278.2,318.8C1283.4,318.3 1288.6,317.9 1293.7,317.3C1298.9,316.7 1304.6,315.9 1309.3,315.4C1313.9,315.0 1317.8,314.4 1321.7,314.5C1325.6,314.5 1329.7,315.6 1332.6,315.7C1335.4,315.9 1337.0,315.0 1338.8,315.4C1340.6,315.8 1341.1,317.6 1343.4,318.1C1345.8,318.5 1349.4,318.6 1352.8,318.1C1356.1,317.5 1361.6,315.4 1363.6,315.0C1365.7,314.5 1363.8,315.3 1365.0,315.5C1366.2,315.7 1368.3,316.7 1370.8,316.3C1373.3,315.9 1377.2,313.3 1380.1,313.2C1383.1,313.1 1385.0,315.2 1388.3,315.5C1391.6,315.8 1396.1,315.1 1400.0,314.9C1403.8,314.7 1407.7,314.3 1411.6,314.4C1415.5,314.4 1419.4,315.0 1423.3,315.2C1427.1,315.4 1431.0,315.6 1434.9,315.5C1438.8,315.5 1442.7,315.0 1446.6,314.9C1450.4,314.9 1454.3,315.0 1458.2,315.2C1462.1,315.4 1466.0,316.0 1469.9,316.1C1473.7,316.2 1479.1,315.9 1481.5,315.9C1483.9,315.8 1483.9,315.9 1484.4,315.9"/>
</g>
<g font-size="46" text-anchor="middle">
<text x="39.6" y="1156">500</text><text x="246.0" y="1156">1000</text><text x="452.3" y="1156">1500</text><text x="658.6" y="1156">2000</text><text x="865.0" y="1156">2500</text><text x="1071.3" y="1156">3000</text><text x="1277.7" y="1156">3500</text><text x="1484.0" y="1156">4000</text>
</g>
<g stroke-width="5.4" stroke-linecap="round">
<line x1="54" y1="73.7" x2="178" y2="73.7" stroke="#036fe0"/>
<line x1="54" y1="143.4" x2="178" y2="143.4" stroke="#ff3b3b"/>
<line x1="54" y1="213.5" x2="178" y2="213.5" stroke="#4c4c4c"/>
</g>
<g font-size="56">
<text x="192.5" y="91.6">PLA/WO</text>
<text x="192.5" y="162">WO</text>
<text x="192.5" y="231.5">PLA</text>
</g>
<text x="499" y="1251" font-size="56">Wavenumber <tspan font-weight="normal" x="839.5">(</tspan><tspan x="857.5">cm</tspan></text>
<text transform="translate(929,1224.5) scale(2.03,1)" font-size="30" font-weight="normal">&#8722;</text>
<text x="965.5" y="1228" font-size="38">1</text>
<text x="986" y="1251.5" font-size="55" font-weight="normal">)</text>
</svg>
</body></html>
